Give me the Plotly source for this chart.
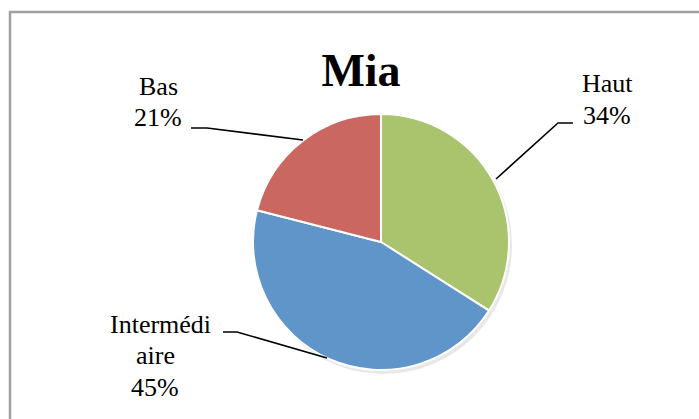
import plotly.graph_objects as go

W, H = 699, 419

labels = ["Haut", "Intermédiaire", "Bas"]
values = [34, 45, 21]
colors = ["#A9C46C", "#5F95C9", "#CB6761"]
label_lines = [["Haut"], ["Intermédi", "aire"], ["Bas"]]


def px_x(x):
    return x / W


def px_y(y):
    return 1 - y / H


fig = go.Figure()

# soft shadow behind the pie
fig.add_shape(type="circle", xref="paper", yref="paper",
              x0=px_x(381 - 128 + 2), x1=px_x(381 + 128 + 3),
              y0=px_y(242 + 128 + 4), y1=px_y(242 - 128 + 2),
              fillcolor="rgba(0,0,0,0.09)", line=dict(width=0), layer="below")

fig.add_trace(go.Pie(
    labels=labels,
    values=values,
    sort=False,
    direction="clockwise",
    rotation=0,
    marker=dict(colors=colors, line=dict(color="white", width=2)),
    textinfo="none",
    hoverinfo="label+percent",
    showlegend=False,
    domain=dict(x=[px_x(381 - 128), px_x(381 + 128)],
                y=[px_y(242 + 128), px_y(242 - 128)]),
))

total = sum(values)
# first-line centre (pixels) for each label block, and line x centres
label_pos = [(607, 84, 607), (160, 324, 155), (158, 86, 158)]
line_gap = 31.5
leaders = [
    [(496, 179), (558, 123), (573, 123)],
    [(327, 358), (237, 332), (223, 332)],
    [(303, 140), (207, 128), (191, 128)],
]

font = dict(family="Liberation Serif, DejaVu Serif, serif", size=26, color="#000000")
for lines, v, (lx, ly, lx2) in zip(label_lines, values, label_pos):
    rows = lines + [f"{round(100 * v / total)}%"]
    for i, row in enumerate(rows):
        fig.add_annotation(
            x=px_x(lx if i == 0 else lx2), y=px_y(ly + i * line_gap),
            xref="paper", yref="paper",
            text=row, showarrow=False, font=font,
            xanchor="center", yanchor="middle",
        )

for pts in leaders:
    path = "M " + " L ".join(f"{px_x(x)},{px_y(y)}" for x, y in pts)
    fig.add_shape(type="path", xref="paper", yref="paper", path=path,
                  line=dict(color="black", width=1.6))

# outer chart border
fig.add_shape(type="rect", xref="paper", yref="paper",
              x0=px_x(10), x1=1.05, y0=-0.05, y1=px_y(12),
              line=dict(color="#A0A0A0", width=2.5))

fig.update_layout(
    width=W, height=H,
    margin=dict(l=0, r=0, t=0, b=0),
    paper_bgcolor="white",
    plot_bgcolor="white",
    title=dict(text="<b>Mia</b>", x=361 / W, xanchor="center",
               y=px_y(70), yanchor="middle",
               font=dict(family="Liberation Serif, DejaVu Serif, serif", size=46, color="black")),
)

fig.write_html("out.html", config={"displayModeBar": False},
               post_script="document.body.style.margin='0';")
